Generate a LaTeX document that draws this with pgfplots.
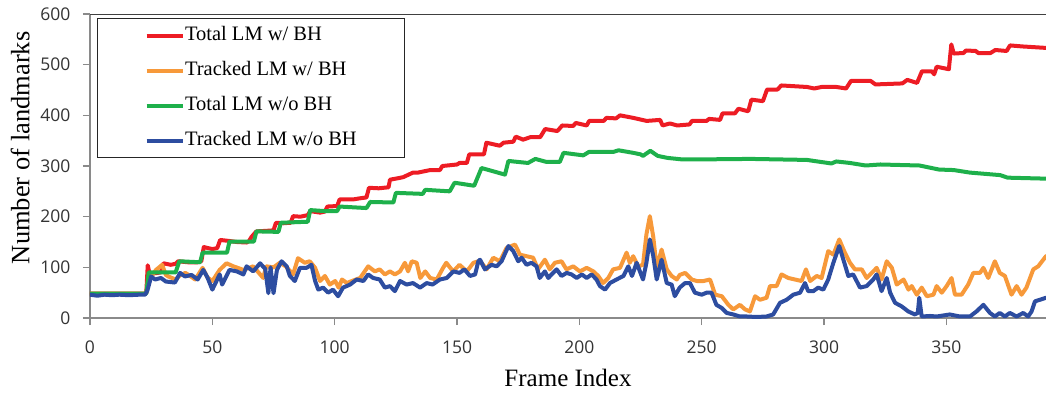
\documentclass[border=0pt]{standalone}
\usepackage{fontspec}
\setmainfont{Liberation Serif}
\newfontfamily\tickfont{Open Sans}
\usepackage{pgfplots}
\pgfplotsset{compat=1.18}
\definecolor{cRed}{HTML}{ED1C24}
\definecolor{cOrange}{HTML}{F7993A}
\definecolor{cGreen}{HTML}{1EB04B}
\definecolor{cBlue}{HTML}{2D4DA0}
\definecolor{axGray}{HTML}{8A8A8A}
\begin{document}
\begin{tikzpicture}
\path[use as bounding box] (-90pt,-74pt) rectangle (956pt,304pt+14pt);
\begin{axis}[
  at={(0,0)}, anchor=south west,
  scale only axis, width=956pt, height=304pt,
  xmin=0, xmax=390.7, ymin=0, ymax=600,
  axis x line*=bottom, axis y line*=left,
  axis line style={draw=axGray, line width=1.4pt},
  xtick={0,50,...,350}, ytick={0,100,...,600},
  tick align=outside, major tick length=7pt,
  tick style={draw=axGray, line width=1.2pt},
  /pgf/number format/assume math mode=true,
  ticklabel style={font=\tickfont\fontsize{17.5}{20}\selectfont, text=black!80},
  yticklabel style={xshift=-9pt},
  xticklabel style={yshift=-12pt},
  xlabel={Frame Index}, ylabel={Number of landmarks},
  xlabel style={at={(axis description cs:0.5,-0.197)}, anchor=center, font=\fontsize{25}{28}\selectfont},
  ylabel style={at={(axis description cs:-0.073,0.56)}, anchor=center, rotate=0, font=\fontsize{26.5}{30}\selectfont},
  clip=true,
  legend cell align=left,
  legend image code/.code={\draw[#1, line width=4pt, line cap=butt] (0pt,0pt) -- (36pt,0pt);},
  legend style={at={(axis description cs:0.0073,0.987)}, anchor=north west,
    draw=black!85, line width=1.1pt, fill=white,
    font=\fontsize{20.5}{24}\selectfont,
    inner xsep=47pt, inner ysep=6pt, row sep=13pt,
    nodes={text height=14pt, text depth=4pt, inner xsep=0.5pt}},
  every axis plot/.append style={line width=4pt, line join=round, line cap=round},
]
\addplot[cRed] coordinates {
(0,48)(22,48)(23,49)(23.6,104)(24.5,84)(26,88)(29,90)(30,108)(33,105)(35,107)(36,112)(40,110)(44,110)(45.5,112)(46.5,140)(50,136)(52,138)(53.2,154)(57,152)(60,150)(64,149)(65,152)(66,160)(68,171)(72,172)(75,173)(76,188)(79,187)(82,188)(83,201)(86,200)(89,203)(90,211)(94,208)(96,210)(97,220)(101,221)(102,234)(107.5,234)(110,236)(113,238)(114,257)(118,256)(122,258)(122.6,273)(126,276)(128,278)(132,287)(134,287)(139,292)(143,292)(144,300)(150,303)(151,306)(154,306)(155,323)(161,323)(162,346)(167.5,340)(169,346)(173,348)(174,358)(177,352)(180,357)(184,357)(186,373)(191,369)(193,380)(197.5,379)(198.5,385)(203,380)(204,389)(210,389)(211,395)(215,394)(216.6,400)(222,395)(227.5,389)(233,391)(234,380)(237,384)(240,380)(245,382)(246,389)(252,389)(253,393)(257.5,391)(258.5,404)(263.6,404)(265,413)(269,408)(270.3,431)(275,428)(276.7,451)(281,451)(282.5,459)(293,456)(296,453)(299,456)(305,456)(309,453)(311,468)(319,468)(321,461)(332,463)(334,470)(338,464)(340,487)(344,487)(345,481)(346,496)(351,491)(352,540)(353,522)(357,523)(358,528)(362,527)(363,523)(368,523)(370,529)(374.6,527)(376,538)(381,536)(391,533)
};
\addlegendentry{Total LM w/ BH}
\addplot[cOrange] coordinates {
(0,48)(22,48)(23,50)(24,82)(25,82)(27,95)(29.5,105)(31,85)(32,82)(35,76)(37,85)(39,89)(43,76)(46,99)(48,80)(50,73)(53,95)(55.8,108)(58.6,102)(62.7,95)(66.7,102)(70.8,79)(72,102)(75,100)(77.6,109)(80,102)(83,86)(85,118)(87.8,109)(89.8,112)(92,99)(94,73)(96,83)(98,66)(100.2,73)(101.6,60)(103,76)(105,69)(107,73)(110.4,79)(113.7,102)(116.4,92)(118.4,96)(120.5,86)(122.6,92)(124.6,86)(126.7,92)(128.7,109)(130,92)(131.5,112)(133.5,109)(135,79)(137,92)(139,79)(141.7,76)(144.3,99)(145.6,109)(148.4,92)(151,105)(154,92)(156.7,109)(158.7,112)(160,109)(162.1,96)(164.8,119)(167.5,112)(170.2,138)(173.7,145)(175.7,125)(178.4,122)(181.1,119)(183.1,96)(185.9,115)(187.9,96)(190,109)(192.7,112)(194.7,96)(197.5,102)(200.2,92)(203,99)(205.7,92)(207.7,83)(209.7,69)(211.8,79)(213.8,96)(216.6,99)(219.3,129)(220.6,109)(222,122)(224,102)(226,105)(227.4,165)(228.8,201)(230.2,160)(231.6,99)(233.6,135)(235.7,96)(237.7,83)(239.8,76)(241,85)(243.2,89)(245.9,76)(248,73)(250.7,73)(253.4,76)(255.5,46)(258.2,43)(260.9,26)(262.9,17)(265.6,26)(267.7,17)(269.7,13)(271.8,43)(273.8,36)(276.5,40)(277.9,63)(280.6,63)(282.6,86)(285.4,79)(288.1,76)(290.8,73)(292.6,96)(294.3,73)(297,83)(299,79)(301.7,132)(303.8,125)(306.2,155)(308.5,129)(310.6,109)(312.6,96)(315.4,96)(317.4,79)(320.1,92)(321.5,99)(323.5,76)(325.6,112)(327.7,99)(329.7,66)(332.5,76)(334.5,56)(335.8,63)(337.9,46)(339.9,60)(342,43)(344.7,46)(346,63)(348.1,50)(350.1,63)(352.1,79)(353.5,46)(356.2,46)(358.9,66)(361,89)(363.7,89)(365.1,99)(367.1,79)(369.8,112)(371.8,89)(373.9,83)(376.6,46)(378.7,63)(380.7,46)(382.7,60)(385.5,96)(387.5,102)(390.7,122)
};
\addlegendentry{Tracked LM w/ BH}
\addplot[cGreen] coordinates {
(0,48)(23,48)(24,90)(35,90)(36.5,112)(45,110)(46,129)(56,129)(57,151)(67,151)(68,171)(77,170)(78,188)(89,190)(90,213)(96,211)(101,211)(102,220)(113,217)(114.5,229)(124,228)(125,247)(136,245)(137,253)(147,250)(149,267)(157,261)(160,296)(163,292)(169.6,283)(171,310)(179,306)(182,314)(186.6,308)(192,308)(193.5,326)(201.6,321)(204,328)(214,328)(216,331)(222,326)(225,323)(226,320)(229,330)(232,320)(236,316)(242,313)(249,313)(270,314)(293,312)(303,305)(305,309)(310.6,306)(317,301)(323,303)(339,301)(347,293)(353,292)(359.6,287)(372,282)(375,277)(391,275)
};
\addlegendentry{Total LM w/o BH}
\addplot[cBlue] coordinates {
(0,46)(3,44)(6,46)(9,45)(12,46)(16,45)(20,46)(22.5,46)(23.5,55)(25,82)(26.6,76)(29,79)(31,72)(34.7,70)(36.8,89)(38.8,82)(41.5,85)(44,76)(46.3,95)(48,80)(50,56)(53,86)(54,66)(57,95)(60,92)(62.7,86)(64,102)(66.7,92)(69.5,108)(71.6,97)(72.9,49)(73.8,100)(75,49)(76.4,95)(78.3,112)(80.4,102)(81.7,83)(83.7,73)(85.8,99)(88.5,99)(90.5,105)(92,73)(93.3,56)(95.3,60)(97.3,50)(99.3,56)(101.4,43)(103.4,60)(106.3,66)(109,76)(111.7,73)(113.7,86)(115.7,79)(118.4,76)(120.5,60)(122.6,63)(124.6,53)(126.7,73)(129.4,66)(132,69)(134.9,60)(137.6,69)(140,66)(143,76)(145.8,79)(148.5,92)(151,89)(153,96)(155.3,83)(157.4,86)(158.7,112)(159.4,115)(161.4,96)(164.1,105)(166.2,102)(168.2,112)(171,142)(173,132)(175,112)(176.4,119)(178.4,105)(180.4,109)(182.5,102)(183.8,79)(185.9,92)(187.3,79)(188.6,86)(190.7,96)(192.7,83)(194.8,89)(196.8,86)(198.9,79)(201,86)(203,79)(205,86)(207,76)(208.4,63)(210.5,56)(212.5,69)(215.2,76)(218,83)(220,102)(221.5,83)(223.4,109)(226,76)(227.4,109)(228.8,155)(230.2,122)(231.6,76)(233.6,115)(235.7,69)(237.7,66)(239,43)(241,60)(243.2,69)(245.2,69)(247.2,50)(250,46)(252,50)(254,50)(256,26)(258.1,20)(260.2,10)(262.9,7)(265.6,3)(268.4,3)(272.4,2)(276.5,3)(279.2,7)(282,30)(284.7,36)(287.4,46)(290.2,50)(292.2,69)(293.5,53)(295.6,53)(297.6,60)(299.7,56)(301.7,76)(303.8,109)(306.2,142)(307.9,115)(309.9,83)(311.9,86)(314.7,60)(317.4,63)(320.1,76)(321.5,86)(323.5,53)(325.6,79)(327,50)(329,30)(331.7,23)(334.4,13)(337.1,7)(338.3,10)(338.9,40)(339.9,3)(343.3,4)(346,3)(351.4,7)(355.5,3)(359.6,3)(362.3,13)(365.1,26)(367.8,10)(369.8,3)(371.8,10)(373.9,3)(375.9,10)(378.7,3)(381.4,10)(383.4,3)(384.8,13)(386.2,33)(388.2,36)(390.7,40)
};
\addlegendentry{Tracked LM w/o BH}
\draw[black!75, line width=1.4pt] (rel axis cs:0,1) -- (rel axis cs:1,1);
\end{axis}
\end{tikzpicture}
\end{document}
